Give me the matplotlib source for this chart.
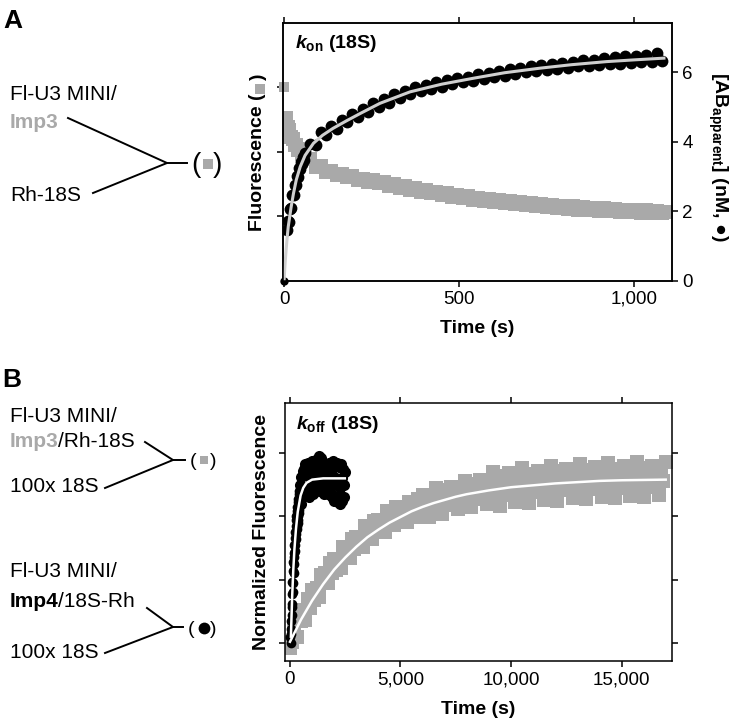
import matplotlib.pyplot as plt
import numpy as np

plt.rcParams["font.family"] = ["Liberation Sans", "DejaVu Sans"]
plt.rcParams["mathtext.fontset"] = "custom"
plt.rcParams["mathtext.rm"] = "Liberation Sans:bold"
plt.rcParams["mathtext.it"] = "Liberation Sans:italic:bold"
plt.rcParams["mathtext.bf"] = "Liberation Sans:bold"

GRAY = "#a9a9a9"

# ---------------- panel A : k_on (18S) ----------------
# gray squares, fluorescence (left axis, arbitrary units)
a_gray_first_t = [0]
a_gray_first = [3.0]
a_gray_early_t = [5, 10, 15, 20, 25, 30, 35, 40, 45, 50, 55, 60]
a_gray_early = [2.52, 2.38, 2.34, 2.22, 2.2, 2.1, 2.1, 2.02, 2.04, 1.96, 1.97, 1.9]
a_gray_late = [1.88, 1.76, 1.78, 1.69, 1.7, 1.63, 1.66, 1.6, 1.62, 1.56,
               1.58, 1.53, 1.56, 1.51, 1.53, 1.47, 1.49, 1.44, 1.46, 1.41,
               1.43, 1.38, 1.4, 1.35, 1.38, 1.32, 1.35, 1.3, 1.33, 1.28,
               1.31, 1.25, 1.28, 1.23, 1.26, 1.22, 1.25, 1.2, 1.23, 1.18,
               1.22, 1.17, 1.2, 1.15, 1.18, 1.14, 1.17, 1.13, 1.16, 1.11,
               1.15, 1.1, 1.14, 1.09, 1.13, 1.08, 1.12, 1.08, 1.11, 1.07,
               1.1, 1.06, 1.1, 1.05, 1.09, 1.05, 1.08, 1.04, 1.07]
a_gray_late_t = 75 + 15 * np.arange(len(a_gray_late))

# black circles, [AB apparent] in nM (right axis)
a_black_first_t = [0]
a_black_first = [0.0]
a_black_early_t = [9, 12, 15, 18, 21, 24, 27, 30, 33, 36, 39, 42, 45, 48, 51, 54, 57, 60]
a_black_early = [1.45, 1.7, 1.68, 2.05, 2.1, 2.45, 2.45, 2.75, 2.75, 3.0,
                 2.98, 3.25, 3.2, 3.42, 3.35, 3.55, 3.48, 3.68]
a_black_late = [3.92, 3.9, 4.26, 4.18, 4.45, 4.36, 4.62, 4.55, 4.78, 4.7,
                4.95, 4.85, 5.1, 5.0, 5.22, 5.12, 5.36, 5.25, 5.45, 5.36,
                5.57, 5.44, 5.62, 5.5, 5.7, 5.58, 5.76, 5.65, 5.84, 5.7,
                5.86, 5.75, 5.94, 5.8, 5.98, 5.86, 6.04, 5.9, 6.1, 5.95,
                6.12, 6.0, 6.17, 6.03, 6.2, 6.06, 6.24, 6.1, 6.27, 6.12,
                6.3, 6.16, 6.34, 6.18, 6.36, 6.2, 6.4, 6.22, 6.42, 6.24,
                6.45, 6.26, 6.46, 6.28, 6.5, 6.3, 6.55, 6.32]
a_black_late_t = 75 + 15 * np.arange(len(a_black_late))

a_fit_t = [0, 3, 6, 9, 12, 20, 27, 35, 46, 60, 84, 110, 140, 179, 220, 274,
           360, 450, 540, 630, 730, 820, 921, 1000, 1085]
a_fit = [0, 0.5, 0.9, 1.25, 1.55, 2.1, 2.51, 2.9, 3.27, 3.6, 3.95, 4.18, 4.38,
         4.6, 4.82, 5.1, 5.43, 5.65, 5.82, 5.98, 6.11, 6.21, 6.3, 6.35, 6.4]

# ---------------- panel B : k_off (18S) ----------------
# black circles, Imp4 chase: fast rise (every 10 s) then plateau (every 30 s)
b_black_rise = [0.1, 0.15, 0.0, 0.35, 0.22, 0.57, 0.45, 0.78, 0.62, 0.96,
                0.8, 1.13, 0.95, 1.28, 1.1, 1.42, 1.24, 1.55, 1.36, 1.66,
                1.46, 1.76, 1.55, 1.85, 1.64, 1.94, 1.72, 2.0, 1.8, 2.08,
                1.85, 2.15, 1.9, 2.22, 1.95, 2.28, 2.0, 2.35, 2.05, 2.4,
                2.1]
b_black_rise_t = 20 + 10 * np.arange(len(b_black_rise))
b_black = [2.5, 2.2, 2.62, 2.3, 2.72, 2.35,
           2.75, 2.4, 2.82, 2.45, 2.65, 2.35, 2.85, 2.5, 2.3, 2.75,
           2.55, 2.4, 2.88, 2.6, 2.35, 2.8, 2.5, 2.7, 2.4, 2.9,
           2.6, 2.42, 2.85, 2.95, 2.55, 2.4, 2.92, 2.7, 2.45, 2.85,
           2.6, 2.35, 2.8, 2.55, 2.4, 2.78, 2.62, 2.35, 2.85, 2.55,
           2.4, 2.82, 2.65, 2.3, 2.88, 2.55, 2.25, 2.8, 2.6, 2.3,
           2.85, 2.5, 2.22, 2.78, 2.45, 2.2, 2.82, 2.6, 2.25, 2.75,
           2.5, 2.3, 2.7]
b_black_t = 450 + 30 * np.arange(len(b_black))
b_black_fit_t = [40, 100, 150, 200, 270, 350, 480, 600, 750, 1000, 1250, 1500, 2000, 2480]
b_black_fit = [0.1, 0.75, 1.16, 1.48, 1.8, 2.07, 2.33, 2.45, 2.53, 2.58, 2.59, 2.6, 2.6, 2.6]

# gray squares, Imp3 chase (every 100 s)
b_gray = [-0.08, 0.01, 0.22, 0.10, 0.46, 0.35, 0.52, 0.37, 0.70, 0.56,
          0.83, 0.68, 0.87, 0.73, 1.08, 0.95, 1.11, 0.94, 1.26, 1.10,
          1.32, 1.16, 1.33, 1.18, 1.51, 1.37, 1.52, 1.34, 1.64, 1.48,
          1.68, 1.51, 1.67, 1.51, 1.84, 1.69, 1.82, 1.64, 1.93, 1.76,
          1.95, 1.77, 1.93, 1.76, 2.08, 1.92, 2.05, 1.86, 2.15, 1.97,
          2.15, 1.93, 2.08, 1.91, 2.22, 2.06, 2.18, 1.99, 2.27, 2.09,
          2.33, 2.08, 2.21, 1.99, 2.32, 2.19, 2.44, 2.09, 2.32, 2.03,
          2.28, 2.41, 2.18, 2.47, 2.22, 2.35, 2.12, 2.44, 2.31, 2.56,
          2.21, 2.44, 2.14, 2.39, 2.51, 2.28, 2.57, 2.31, 2.44, 2.20,
          2.53, 2.40, 2.70, 2.25, 2.53, 2.16, 2.46, 2.63, 2.33, 2.68,
          2.36, 2.51, 2.22, 2.62, 2.45, 2.76, 2.30, 2.58, 2.21, 2.51,
          2.67, 2.38, 2.72, 2.40, 2.56, 2.26, 2.66, 2.49, 2.80, 2.34,
          2.62, 2.24, 2.55, 2.71, 2.41, 2.75, 2.43, 2.59, 2.29, 2.69,
          2.52, 2.82, 2.37, 2.65, 2.27, 2.57, 2.73, 2.43, 2.78, 2.46,
          2.61, 2.31, 2.71, 2.54, 2.84, 2.38, 2.67, 2.29, 2.59, 2.75,
          2.45, 2.79, 2.47, 2.62, 2.32, 2.73, 2.56, 2.86, 2.40, 2.68,
          2.30, 2.60, 2.76, 2.46, 2.80, 2.48, 2.63, 2.33, 2.73, 2.56,
          2.86]
b_gray_t = 100 * np.arange(len(b_gray))
b_gray_fit_t = [0, 500, 1000, 1500, 2000, 2500, 3000, 3500, 4000, 4500, 5000,
                5500, 6000, 6500, 7000, 7500, 8000, 9000, 10000, 11000, 12000,
                13000, 14000, 15000, 16000, 17000]
b_gray_fit = [0.02, 0.37, 0.67, 0.93, 1.16, 1.35, 1.52, 1.67, 1.79, 1.90, 1.99,
              2.08, 2.15, 2.21, 2.26, 2.31, 2.35, 2.41, 2.46, 2.49, 2.52,
              2.54, 2.56, 2.57, 2.575, 2.58]

a_xticks = [0, 500, 1000]
a_xticklabels = ["0", "500", "1,000"]
a_rticks = [0, 2, 4, 6]
b_xticks = [0, 5000, 10000, 15000]
b_xticklabels = ["0", "5,000", "10,000", "15,000"]

fig = plt.figure(figsize=(7.32, 7.2), dpi=100)
W, H = 732, 720


def frame(ax):
    for s in ax.spines.values():
        s.set_linewidth(1.1)
    ax.tick_params(direction="out", length=4.5, width=1.1, labelsize=13.5, pad=3)


# ---- panel A
axA = fig.add_axes([283 / W, 1 - 280.5 / H, 389 / W, 257.8 / H])
frame(axA)
axA.plot(a_gray_early_t, a_gray_early, "s", color=GRAY, ms=10, mew=0)
axA.plot(a_gray_late_t, a_gray_late, "s", color=GRAY, ms=10, mew=0)
axA.plot(a_gray_first_t, a_gray_first, "s", color=GRAY, ms=7, mew=0, clip_on=False)
axA.set_xlim(-3, 1108)
axA.set_ylim(0, 4)
axA.set_yticks([1, 2, 3])
axA.set_yticklabels([])
axA.set_xticks(a_xticks)
axA.set_xticklabels(a_xticklabels)
axA.tick_params(top=True)
axA.set_xlabel("Time (s)", fontsize=14, fontweight="bold", labelpad=9)

axA2 = axA.twinx()
frame(axA2)
axA2.plot(a_black_early_t, a_black_early, "o", color="black", ms=8.5, mew=0)
axA2.plot(a_black_late_t, a_black_late, "o", color="black", ms=8.5, mew=0)
axA2.plot(a_black_first_t, a_black_first, "o", color="black", ms=6, mew=0, clip_on=False)
axA2.plot(a_fit_t, a_fit, color="#cfcfcf", lw=2.2)
axA2.set_ylim(0, 7.42)
axA2.set_yticks(a_rticks)
axA2.text(0.031, 0.921, r"$k_{\mathrm{on}}$ (18S)", transform=axA.transAxes,
          fontsize=14, fontweight="bold", va="center")

# ---- panel B
axB = fig.add_axes([285 / W, 1 - 661 / H, 387 / W, 258 / H])
frame(axB)
axB.plot(b_gray_t, b_gray, "s", color=GRAY, ms=9.5, mew=0)
axB.plot(b_black_rise_t, b_black_rise, "o", color="black", ms=7, mew=0)
axB.plot(b_black_t, b_black, "o", color="black", ms=8, mew=0)
axB.plot(b_gray_fit_t, b_gray_fit, color="white", lw=1.8)
axB.plot(b_black_fit_t, b_black_fit, color="white", lw=1.8)
axB.set_xlim(-226, 17285)
axB.set_ylim(-0.284, 3.79)
axB.set_yticks([0, 1, 2, 3])
axB.set_yticklabels([])
axB.set_xticks(b_xticks)
axB.set_xticklabels(b_xticklabels)
axB.tick_params(top=True, right=True)
axB.set_xlabel("Time (s)", fontsize=14, fontweight="bold", labelpad=9)
axB.text(0.028, 0.918, r"$k_{\mathrm{off}}$ (18S)", transform=axB.transAxes,
         fontsize=14, fontweight="bold", va="center")

# ---- overlay in pixel coordinates for letters, schemes and axis titles
ov = fig.add_axes([0, 0, 1, 1], zorder=10)
ov.set_xlim(0, W)
ov.set_ylim(H, 0)
ov.axis("off")
ov.patch.set_alpha(0)

ov.text(3, 28, "A", fontsize=19, fontweight="bold", va="baseline")
ov.text(2, 387, "B", fontsize=19, fontweight="bold", va="baseline")

fs = 15
ov.text(10, 100, "Fl-U3 MINI/", fontsize=fs, va="baseline")
ov.text(10, 128, "Imp3", fontsize=fs, va="baseline", color=GRAY, fontweight="bold")
ov.text(10, 201, "Rh-18S", fontsize=fs, va="baseline")
ov.plot([68, 167, 93], [118, 163, 193], color="black", lw=1.4)
ov.plot([167, 187], [163, 163], color="black", lw=1.4)
ov.text(191, 165, "(", fontsize=20, va="center")
ov.plot([208], [164], "s", color=GRAY, ms=7, mew=0)
ov.text(213, 165, ")", fontsize=20, va="center")

ov.text(10, 422, "Fl-U3 MINI/", fontsize=fs, va="baseline")
ov.text(10, 447, "Imp3", fontsize=fs, va="baseline", color=GRAY, fontweight="bold")
ov.text(58, 447, "/Rh-18S", fontsize=fs, va="baseline")
ov.text(10, 492, "100x 18S", fontsize=fs, va="baseline")
ov.plot([145, 173, 105], [442, 460, 488], color="black", lw=1.4)
ov.plot([173, 185], [460, 460], color="black", lw=1.4)
ov.text(190, 461, "(", fontsize=14, va="center")
ov.plot([204], [460], "s", color=GRAY, ms=5.5, mew=0)
ov.text(210, 461, ")", fontsize=14, va="center")

ov.text(10, 577, "Fl-U3 MINI/", fontsize=fs, va="baseline")
ov.text(10, 607, "Imp4", fontsize=fs, va="baseline", fontweight="bold")
ov.text(58, 607, "/18S-Rh", fontsize=fs, va="baseline")
ov.text(10, 658, "100x 18S", fontsize=fs, va="baseline")
ov.plot([147, 173, 105], [608, 627, 653], color="black", lw=1.4)
ov.plot([173, 183], [627, 627], color="black", lw=1.4)
ov.text(188, 629, "(", fontsize=14, va="center")
ov.plot([204], [628], "o", color="black", ms=8.5, mew=0)
ov.text(210, 629, ")", fontsize=14, va="center")

# axis titles
ov.text(258, 231, "Fluorescence (", fontsize=14, fontweight="bold", rotation=90,
        ha="center", va="bottom")
ov.plot([259.5], [88.5], "s", color=GRAY, ms=7.5, mew=0)
ov.text(258, 74, ")", fontsize=14, fontweight="bold", rotation=90, ha="center", va="top")
ov.text(718, 157, "[AB$_{\\mathrm{apparent}}$] (nM, \u25CF)", fontsize=14,
        fontweight="bold", rotation=270, ha="center", va="center")
ov.text(261, 532, "Normalized Fluorescence", fontsize=14, fontweight="bold",
        rotation=90, ha="center", va="center")

fig.savefig("out.png", dpi=100)
